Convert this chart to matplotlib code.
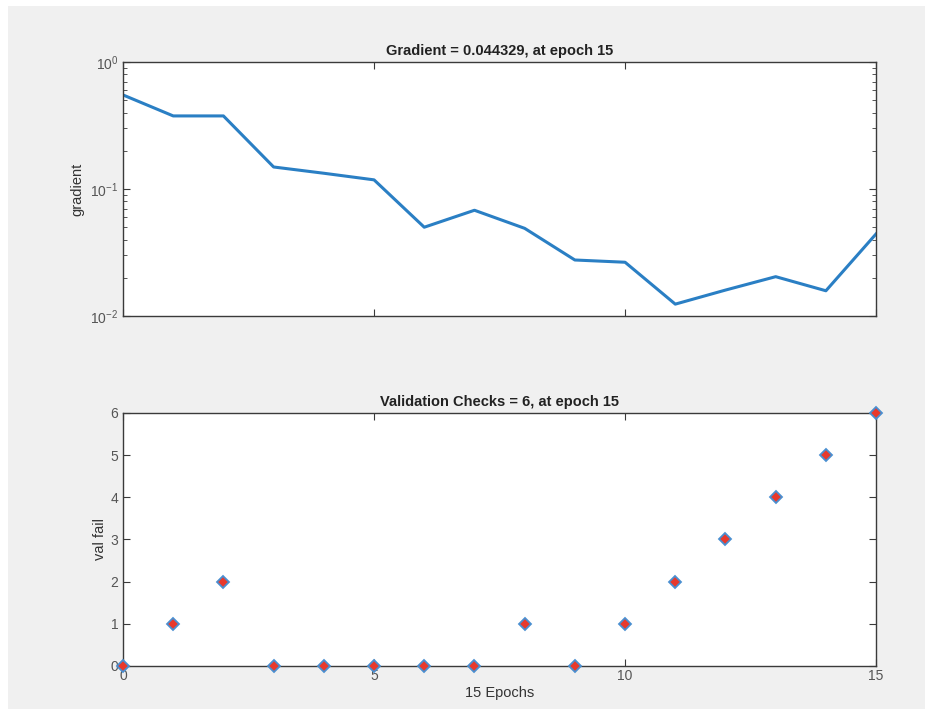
import matplotlib
matplotlib.use("Agg")
import matplotlib.pyplot as plt
from matplotlib.patches import Rectangle

epochs = list(range(16))
gradient = [0.55, 0.376, 0.376, 0.149, 0.133, 0.118, 0.050, 0.068, 0.049,
            0.0276, 0.0265, 0.0124, 0.016, 0.0204, 0.0158, 0.044329]
val_fail = [0, 1, 2, 0, 0, 0, 0, 0, 1, 0, 1, 2, 3, 4, 5, 6]

grad_title = "Gradient = 0.044329, at epoch 15"
val_title = "Validation Checks = 6, at epoch 15"
xlabel = "15 Epochs"

plt.rcParams['font.family'] = ['Liberation Sans', 'DejaVu Sans']
blue = '#2a7fc4'
red = '#e8392c'
spine = '#3a3a3a'
tickc = '#555555'

W, H = 927, 709
fig = plt.figure(figsize=(W / 100, H / 100), dpi=100, facecolor='white')
fig.patches.append(Rectangle((8 / W, 0), (W - 10) / W, (H - 6) / H,
                             transform=fig.transFigure, facecolor='#f0f0f0',
                             edgecolor='none', zorder=-10))
ax1 = fig.add_axes([0.1327, 0.5543, 0.8124, 0.3583])
ax2 = fig.add_axes([0.1327, 0.0607, 0.8124, 0.3568])

for ax in (ax1, ax2):
    ax.set_facecolor('white')
    for s in ax.spines.values():
        s.set_color(spine)
        s.set_linewidth(1.0)
    ax.tick_params(which='both', direction='in', top=True, right=True,
                   colors=spine, labelcolor=tickc, labelsize=10)
    ax.tick_params(which='major', length=5)
    ax.tick_params(which='minor', length=3)
    ax.set_xlim(0, 15)
    ax.set_xticks([0, 5, 10, 15])

ax1.plot(epochs, gradient, color=blue, lw=2.2)
ax1.set_yscale('log')
ax1.set_ylim(1e-2, 1e0)
ax1.set_xticklabels([])
ax1.set_ylabel('gradient', color='#333333', fontsize=10.5, labelpad=4)
ax1.set_title(grad_title, fontweight='bold', fontsize=10.5, color='#222222', pad=5)

ax2.plot(epochs, val_fail, linestyle='none', marker='D', markersize=6.5,
         markerfacecolor=red, markeredgecolor='#4a8fd0', markeredgewidth=1.3,
         clip_on=False, zorder=5)
ax2.set_ylim(0, 6)
ax2.set_yticks(range(7))
ax2.set_ylabel('val fail', color='#333333', fontsize=10.5, labelpad=2)
ax2.set_xlabel(xlabel, color='#333333', fontsize=10.5, labelpad=2)
ax2.set_title(val_title, fontweight='bold', fontsize=10.5, color='#222222', pad=5)
ax2.tick_params(axis='x', pad=2)

fig.savefig('out.png', dpi=100, facecolor=fig.get_facecolor())
